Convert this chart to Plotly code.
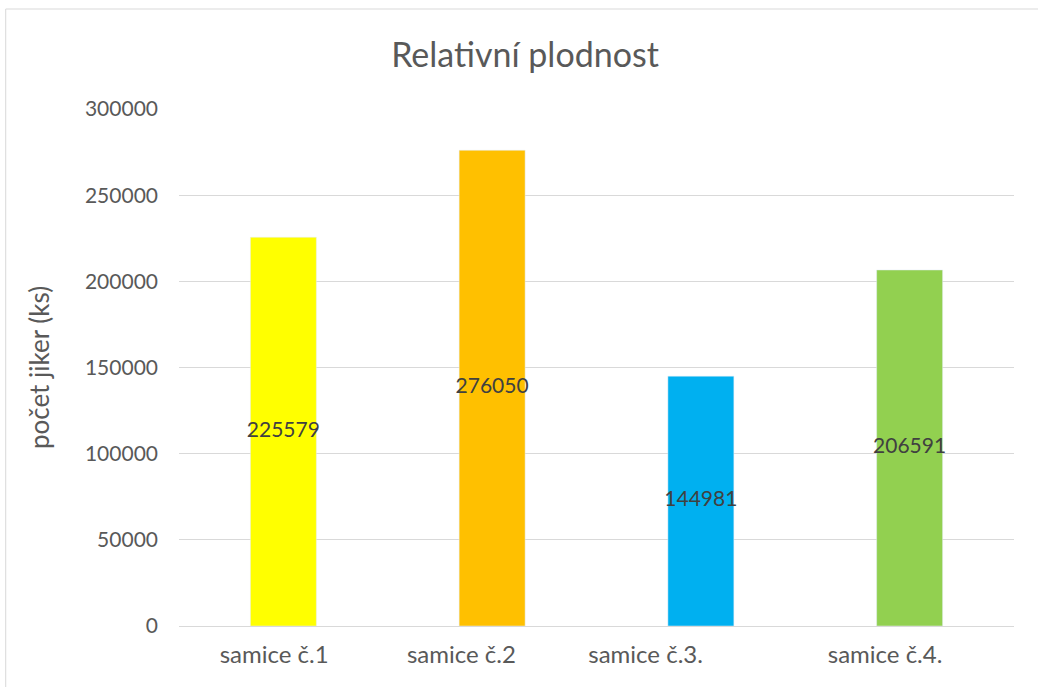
import plotly.graph_objects as go

categories = ["samice č.1", "samice č.2", "samice č.3.", "samice č.4."]
# category labels as displayed (the originals carry trailing spaces)
tick_labels = ["samice č.1" + "\u00a0" * 3, "samice č.2" + "\u00a0" * 10,
               "samice č.3." + "\u00a0" * 18, "samice č.4." + "\u00a0" * 8]
values = [225579, 276050, 144981, 206591]
colors = ["#FFFF00", "#FFC000", "#00B0F0", "#92D050"]
y_ticks = [0, 50000, 100000, 150000, 200000, 250000, 300000]

W, H = 1038, 687
L, R, T, B = 178.5, 23.5, 109, 61
pw, ph = W - L - R, H - T - B

FONT = "Lato"
fig = go.Figure()
fig.add_trace(go.Bar(
    x=categories, y=values, marker_color=colors, width=0.316,
    hoverinfo="skip", showlegend=False,
))
fig.add_trace(go.Scatter(
    x=categories, y=[v / 2 for v in values], mode="text",
    text=[str(v) for v in values],
    textfont=dict(family=FONT, size=21, color="#404040"),
    showlegend=False, hoverinfo="skip",
))

fig.update_layout(
    width=W, height=H,
    margin=dict(l=L, r=R, t=T, b=B, autoexpand=False),
    paper_bgcolor="white", plot_bgcolor="white",
    title=dict(text="Relativní plodnost", x=525 / W, xanchor="center",
               y=1 - 55 / H, yanchor="middle",
               font=dict(family=FONT, size=34, color="#595959")),
    font=dict(family=FONT, size=21, color="#595959"),
    xaxis=dict(showgrid=False, showline=False, ticks="", ticklabelstandoff=12,
               tickvals=categories, ticktext=tick_labels, tickangle=0,
               tickfont=dict(size=24, color="#595959")),
    yaxis=dict(range=[0, 300000], tickvals=y_ticks, tickformat="d",
               showgrid=True, gridcolor="#D9D9D9",
               gridwidth=1, zeroline=True, zerolinecolor="#D9D9D9", zerolinewidth=1,
               showline=False, ticks="", ticklabelstandoff=20,
               tickfont=dict(size=21, color="#595959"),
               title=dict(text="počet jiker (ks)", standoff=27,
                          font=dict(size=26, color="#595959"))),
    shapes=[dict(type="rect", xref="paper", yref="paper",
                 x0=(5 - L) / pw, x1=(W + 10 - L) / pw,
                 y0=(H - B - (H + 10)) / ph, y1=(H - B - 9) / ph,
                 line=dict(color="#D9D9D9", width=1), fillcolor="rgba(0,0,0,0)", layer="below")],
)
fig.write_html("out.html", config={"displayModeBar": False},
               post_script="document.body.style.margin='0px';")
